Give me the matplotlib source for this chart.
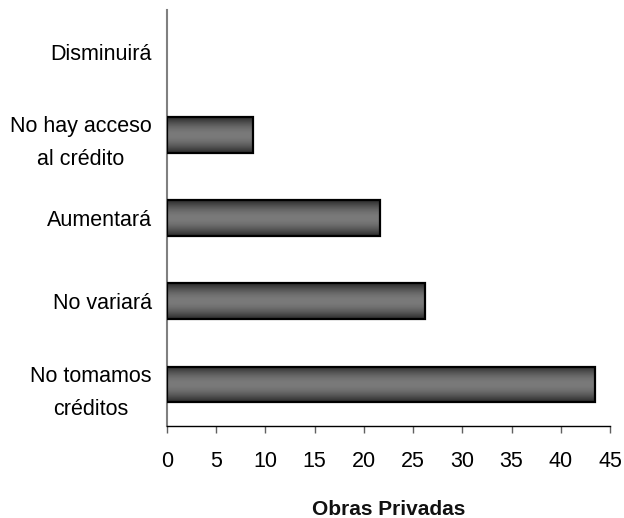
import numpy as np
import matplotlib.pyplot as plt

plt.rcParams['font.family'] = ['Liberation Sans', 'DejaVu Sans']

categories = ['No tomamos\ncréditos', 'No variará', 'Aumentará',
              'No hay acceso\nal crédito', 'Disminuirá']
values = [43.5, 26.2, 21.6, 8.7, 0.0]
xticks = [0, 5, 10, 15, 20, 25, 30, 35, 40, 45]
xlabel = 'Obras Privadas'


def gradient_bars(ax, bars):
    '''Fill each bar with a dark-light-dark vertical gradient.'''
    t = np.linspace(0, 1, 64)
    shade = 0.17 + 0.31 * np.sin(np.pi * t)
    img = np.repeat(shade[:, None], 2, axis=1)
    for bar in bars:
        w = bar.get_width()
        if w <= 0:
            bar.set_linewidth(0)
            continue
        x0, y0 = bar.get_x(), bar.get_y()
        h = bar.get_height()
        im = ax.imshow(img, cmap='gray', vmin=0, vmax=1, aspect='auto',
                       extent=(x0, x0 + w, y0, y0 + h), zorder=2,
                       interpolation='bicubic')
        im.set_clip_path(bar)


fig = plt.figure(figsize=(6.24, 5.18), dpi=100)
ax = fig.add_axes([0.2676, 0.1776, 0.7100, 0.8031])

y = np.arange(len(categories))
bars = ax.barh(y, values, height=0.43, facecolor='none',
               edgecolor='black', linewidth=1.6, zorder=3)
gradient_bars(ax, bars)

ax.set_xlim(0, 45)
ax.set_ylim(-0.5, len(categories) - 0.5)
ax.set_xticks(xticks)
ax.set_yticks(y)
ax.set_yticklabels(categories, multialignment='center', linespacing=1.75)

ax.tick_params(axis='y', length=0, pad=11, labelsize=15.5)
ax.tick_params(axis='x', length=5, width=1, color='#606060', pad=13,
               labelsize=15.5)
ax.set_xlabel(xlabel, fontsize=15, fontweight='bold', labelpad=20,
              color='#111111')

ax.spines['top'].set_visible(False)
ax.spines['right'].set_visible(False)
ax.spines['left'].set_color('#808080')
ax.spines['left'].set_linewidth(1.5)
ax.spines['bottom'].set_color('black')
ax.spines['bottom'].set_linewidth(1.0)

fig.savefig('out.png', dpi=100)
